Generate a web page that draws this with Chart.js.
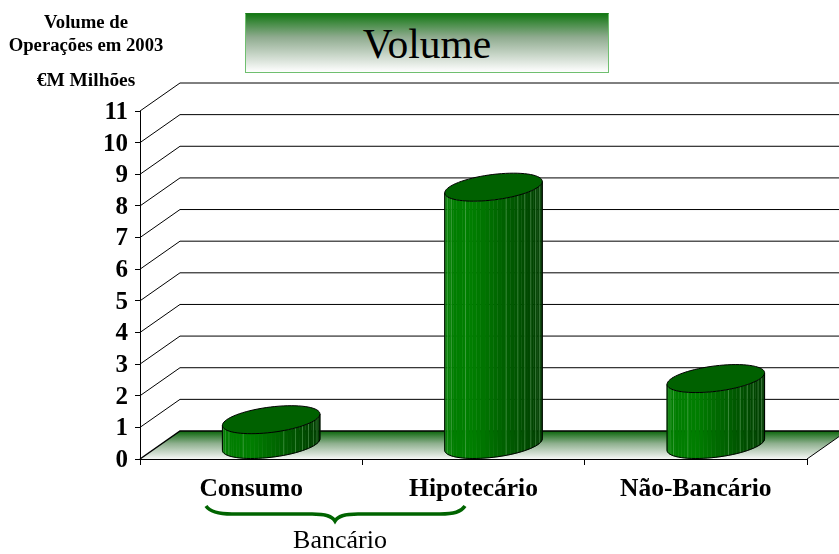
<!DOCTYPE html>
<html>
<head>
<meta charset="utf-8">
<title>Volume</title>
<script src="https://cdn.jsdelivr.net/npm/chart.js@4/dist/chart.umd.min.js"></script>
<style>
  html, body { margin: 0; padding: 0; background: #fff; }
  #quadro { position: relative; width: 839px; height: 554px; overflow: hidden; font-family: "Liberation Serif", serif; color: #000; }
  #grafico { position: absolute; left: 0; top: 0; }
  .texto { position: absolute; text-align: center; white-space: nowrap; }
  #caixa {
    position: absolute; left: 245px; top: 13px; width: 362px; height: 58px;
    border: 1px solid #6fbf6f; border-top-color: #1a7a1a;
    background: linear-gradient(#147814, #8fab8f 40%, #ffffff);
    text-align: center; font-size: 41.5px; line-height: 60px;
  }
</style>
</head>
<body>
<div id="quadro">
  <canvas id="grafico" width="839" height="554"></canvas>
  <div id="caixa">Volume</div>
  <div class="texto" style="left:0;width:172px;top:10px;font-size:18.7px;font-weight:bold;line-height:23px">Volume de<br>Operações em 2003</div>
  <div class="texto" style="left:0;width:172px;top:70px;font-size:19.4px;font-weight:bold;line-height:20px">€M Milhões</div>
  <div class="texto" style="left:240px;width:200px;top:525px;font-size:26px;line-height:30px">Bancário</div>
</div>
<script>
var categorias = ["Consumo", "Hipotecário", "Não-Bancário"];
var volumes = [0.8, 8.15, 2.1];
var eixoMax = 11;

// deslocamento da parede do fundo
var fundoX = 40, fundoY = -28;
var listras = [2, 4, 6, 11, 21, 24, 26, 28, 30, 32];

var paredes = {
  id: "paredes",
  beforeDatasetsDraw: function(chart) {
    var ctx = chart.ctx, y = chart.scales.y, a = chart.chartArea;
    var y0 = y.getPixelForValue(0);

    // chao
    var grad = ctx.createLinearGradient(0, y0 + fundoY, 0, y0);
    grad.addColorStop(0, "#0b660b");
    grad.addColorStop(0.45, "#8fb08f");
    grad.addColorStop(1, "#f6f8f6");
    ctx.fillStyle = grad;
    ctx.beginPath();
    ctx.moveTo(a.left, y0);
    ctx.lineTo(a.left + fundoX, y0 + fundoY);
    ctx.lineTo(a.right + fundoX, y0 + fundoY);
    ctx.lineTo(a.right, y0);
    ctx.closePath();
    ctx.fill();

    ctx.strokeStyle = "#000";
    ctx.lineWidth = 1;
    y.ticks.forEach(function(t) {
      var py = y.getPixelForValue(t.value);
      ctx.beginPath();
      ctx.moveTo(a.left, py);
      ctx.lineTo(a.left + fundoX, py + fundoY);
      ctx.lineTo(a.right + fundoX, py + fundoY);
      if (t.value == 0) ctx.lineWidth = 1.5;
      ctx.stroke();
      ctx.lineWidth = 1;
    });
    ctx.beginPath();
    ctx.moveTo(a.right, y0);
    ctx.lineTo(a.right + fundoX, y0 + fundoY);
    ctx.stroke();
  }
};

function pontoElipse(cx, cy, raio, t) {
  return {
    x: cx + raio * Math.cos(t) + fundoX / 2 * Math.sin(t),
    y: cy + fundoY / 2 * Math.sin(t)
  };
}

var cilindros = {
  id: "cilindros",
  afterDatasetsDraw: function(chart) {
    var ctx = chart.ctx;
    chart.getDatasetMeta(0).data.forEach(function(el) {
      var raio = el.width / 2;
      var cx = el.x + fundoX / 2;
      var topo = el.y + fundoY / 2;
      var base = el.base + fundoY / 2;
      var t0 = Math.atan2(fundoX / 2, raio);
      var n = 36, i;

      // lateral em facetas, da direita para a esquerda
      for (i = 0; i < n; i++) {
        var t1 = t0 - Math.PI * i / n;
        var t2 = t0 - Math.PI * (i + 1) / n;
        var a1 = pontoElipse(cx, topo, raio, t1), a2 = pontoElipse(cx, topo, raio, t2);
        var b1 = pontoElipse(cx, base, raio, t1), b2 = pontoElipse(cx, base, raio, t2);
        var f = (a1.x + a2.x) / 2;
        f = (f - (cx - Math.hypot(raio, fundoX / 2))) / (2 * Math.hypot(raio, fundoX / 2));
        var verde = f < 0.3 ? 126 : Math.round(126 - (f - 0.3) / 0.7 * 66);
        ctx.fillStyle = "rgb(0," + verde + ",0)";
        ctx.strokeStyle = ctx.fillStyle;
        ctx.lineWidth = 0.5;
        ctx.beginPath();
        ctx.moveTo(a1.x, a1.y);
        ctx.lineTo(a2.x, a2.y);
        ctx.lineTo(b2.x, b2.y);
        ctx.lineTo(b1.x, b1.y);
        ctx.closePath();
        ctx.fill();
        ctx.stroke();
        if (listras.indexOf(n - i) >= 0) {
          ctx.strokeStyle = "rgba(130,195,130,0.38)";
          ctx.lineWidth = 1;
          ctx.beginPath();
          ctx.moveTo(a1.x, a1.y);
          ctx.lineTo(b1.x, b1.y);
          ctx.stroke();
        }
      }

      // contorno da lateral
      ctx.strokeStyle = "#000";
      ctx.lineWidth = 1;
      ctx.beginPath();
      var p = pontoElipse(cx, topo, raio, t0);
      ctx.moveTo(p.x, p.y);
      for (i = 0; i <= n; i++) {
        p = pontoElipse(cx, base, raio, t0 - Math.PI * i / n);
        ctx.lineTo(p.x, p.y);
      }
      p = pontoElipse(cx, topo, raio, t0 - Math.PI);
      ctx.lineTo(p.x, p.y);
      ctx.stroke();

      // tampa
      ctx.fillStyle = "#006100";
      ctx.beginPath();
      for (i = 0; i < 72; i++) {
        p = pontoElipse(cx, topo, raio, Math.PI * 2 * i / 72);
        if (i == 0) ctx.moveTo(p.x, p.y); else ctx.lineTo(p.x, p.y);
      }
      ctx.closePath();
      ctx.fill();
      ctx.stroke();
    });

    // chaveta do grupo Bancario
    ctx.strokeStyle = "#006400";
    ctx.lineWidth = 3.5;
    ctx.beginPath();
    ctx.moveTo(206, 506);
    ctx.bezierCurveTo(210, 512, 218, 514, 232, 514);
    ctx.lineTo(312, 514);
    ctx.bezierCurveTo(326, 514, 332, 516, 335, 521);
    ctx.bezierCurveTo(338, 516, 344, 514, 358, 514);
    ctx.lineTo(440, 514);
    ctx.bezierCurveTo(454, 514, 461, 512, 465, 506);
    ctx.stroke();
  }
};

new Chart(document.getElementById("grafico"), {
  type: "bar",
  data: {
    labels: categorias,
    datasets: [{
      label: "Volume",
      data: volumes,
      backgroundColor: "transparent",
      borderWidth: 0,
      barPercentage: 0.4,
      categoryPercentage: 1
    }]
  },
  options: {
    responsive: false,
    animation: false,
    layout: { padding: { top: 111, right: 32, left: 0, bottom: 0 } },
    plugins: { legend: { display: false }, tooltip: { enabled: false }, title: { display: false } },
    scales: {
      x: {
        afterFit: function(s) { s.height = 95; },
        grid: { offset: true, drawOnChartArea: false, tickLength: 6, color: "#000" },
        border: { display: true, color: "#000" },
        ticks: {
          color: "#000", padding: 9, maxRotation: 0, autoSkip: false,
          font: { family: "Liberation Serif", size: 25.5, weight: "bold" }
        }
      },
      y: {
        min: 0,
        max: eixoMax,
        afterFit: function(s) { s.width = 140; },
        grid: { drawOnChartArea: false, tickLength: 5, color: "#000" },
        border: { display: true, color: "#000" },
        ticks: {
          stepSize: 1, color: "#000", padding: 7, autoSkip: false, labelOffset: 1.5,
          font: { family: "Liberation Serif", size: 25, weight: "bold" }
        }
      }
    }
  },
  plugins: [paredes, cilindros]
});
</script>
</body>
</html>
